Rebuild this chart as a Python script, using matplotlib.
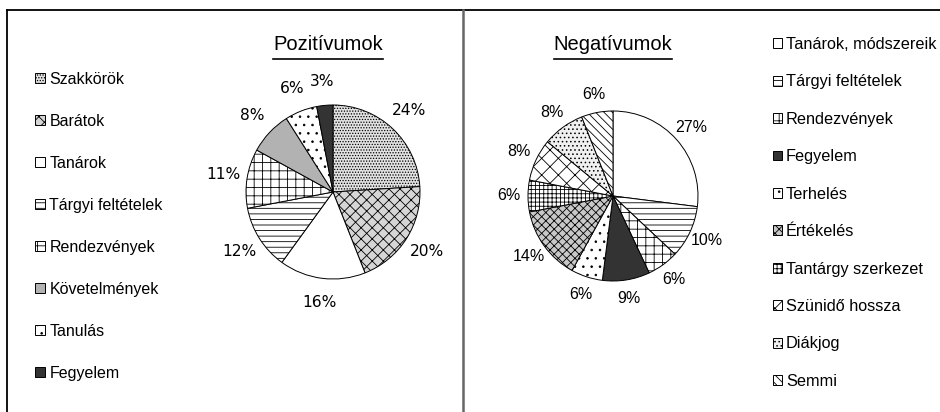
import matplotlib.pyplot as plt
from matplotlib.lines import Line2D

plt.rcParams['font.family'] = ['Liberation Sans', 'DejaVu Sans']
plt.rcParams['hatch.linewidth'] = 0.6
plt.rcParams['hatch.color'] = 'black'

# Pozitívumok
pos_labels = ['Szakkörök', 'Barátok', 'Tanárok', 'Tárgyi feltételek', 'Rendezvények',
              'Követelmények', 'Tanulás', 'Fegyelem']
pos_values = [24, 20, 16, 12, 11, 8, 6, 3]

# Negatívumok
neg_labels = ['Tanárok, módszereik', 'Tárgyi feltételek', 'Rendezvények', 'Fegyelem',
              'Terhelés', 'Értékelés', 'Tantárgy szerkezet', 'Szünidő hossza',
              'Diákjog', 'Semmi']
neg_values = [27, 10, 6, 9, 6, 14, 6, 8, 8, 6]

pos_colors = ['#e2e2e2', '#d6d6d6', 'white', 'white', 'white', '#b2b2b2', 'white', '#333333']
pos_hatches = ['......', 'xxx', '', '---', '++', '', '..', '']
neg_colors = ['white', 'white', 'white', '#333333', 'white', '#c8c8c8', 'white',
              'white', '#f0f0f0', 'white']
neg_hatches = ['', '---', '++', '', '..', 'xxxx', '++++', 'xx', '....', '\\\\\\\\']

W, H = 940, 412
fig = plt.figure(figsize=(W / 100, H / 100), dpi=100)


def pie_axes(cx, cy, r):
    # pie() shows +-1.25 radii, so the axes side is 2.5 r
    s = 2.5 * r
    return fig.add_axes([(cx - s / 2) / W, (H - cy - s / 2) / H, s / W, s / H])


def draw_pie(ax, values, colors, hatches, dist, fontsize, family):
    wedges, _, autotexts = ax.pie(values, colors=colors, startangle=90, counterclock=False,
                                  autopct='%.0f%%', pctdistance=dist,
                                  wedgeprops=dict(edgecolor='black', linewidth=0.7),
                                  textprops=dict(fontsize=fontsize, family=family))
    for w, h in zip(wedges, hatches):
        w.set_hatch(h)
    return wedges


ax1 = pie_axes(333, 192, 87)
w1 = draw_pie(ax1, pos_values, pos_colors, pos_hatches, 1.28, 11.2, 'DejaVu Sans')
ax2 = pie_axes(613, 196, 85)
w2 = draw_pie(ax2, neg_values, neg_colors, neg_hatches, 1.22, 11.5, 'Liberation Sans')

fig.legend(w1, pos_labels, loc='upper left', bbox_to_anchor=(35 / W, 1 - 72 / H),
           frameon=False, fontsize=11.5, handlelength=0.6, handleheight=0.6,
           handletextpad=0.3, labelspacing=1.69, borderpad=0, borderaxespad=0)
fig.legend(w2, neg_labels, loc='upper left', bbox_to_anchor=(773 / W, 1 - 37 / H),
           frameon=False, fontsize=11.7, handlelength=0.55, handleheight=0.55,
           handletextpad=0.25, labelspacing=1.38, borderpad=0, borderaxespad=0)

titles = [fig.text(328 / W, 1 - 45 / H, 'Pozitívumok', ha='center', va='center', fontsize=14.5),
          fig.text(613 / W, 1 - 45 / H, 'Negatívumok', ha='center', va='center', fontsize=14.5)]

# underline the titles
fig.canvas.draw()
r = fig.canvas.get_renderer()
for t in titles:
    bb = t.get_window_extent(r)
    fig.add_artist(Line2D([bb.x0 / W, bb.x1 / W], [(H - 59) / H] * 2, color='black', lw=1.2))

# frame lines
fig.add_artist(Line2D([7 / W, 1], [1 - 10 / H] * 2, color='black', lw=1.3))
fig.add_artist(Line2D([7 / W] * 2, [0, 1 - 10 / H], color='black', lw=1.3))
fig.add_artist(Line2D([463 / W] * 2, [0, 1 - 10 / H], color='#666666', lw=1.8))

fig.savefig('out.png', dpi=100)
